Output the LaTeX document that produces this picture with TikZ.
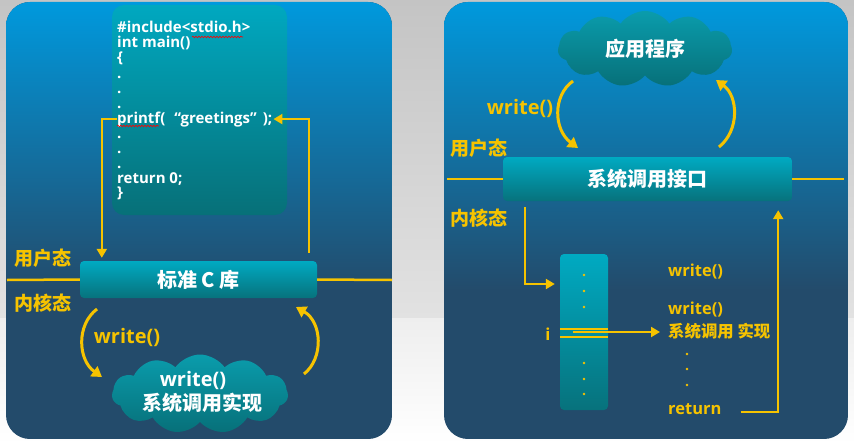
\documentclass[tikz,border=0pt]{standalone}
\usepackage{fontspec}
\setmainfont{Open Sans}
\newfontfamily\cjk{Noto Sans CJK SC}
\usetikzlibrary{arrows.meta,shapes.symbols,decorations.pathmorphing,calc}
\definecolor{ylw}{HTML}{F6C300}
\definecolor{bgA}{HTML}{C4C4C4}
\definecolor{bgB}{HTML}{E2E2E2}
\definecolor{bgC}{HTML}{EEEEEE}
\definecolor{panelT}{HTML}{0099DD}
\definecolor{panelB}{HTML}{234B6B}
\definecolor{tealT}{HTML}{00AAC2}
\definecolor{tealB}{HTML}{07727C}
\definecolor{codeT}{HTML}{00A8C0}
\definecolor{codeB}{HTML}{077078}
\definecolor{cloudT}{HTML}{0A9CAC}
\definecolor{cloudB}{HTML}{077079}
\begin{document}
\begin{tikzpicture}[x=1pt,y=-1pt,
  yl/.style={draw=ylw,line width=2.5pt},
  ya/.style={yl,-{Triangle[length=9pt,width=10pt]}},
  ca/.style={draw=ylw,line width=3pt,-{Triangle[length=10pt,width=12pt]}},
  tealbox/.style={rectangle,rounded corners=4pt,inner sep=0pt,top color=tealT,bottom color=tealB},
  cloudn/.style={cloud,cloud puffs=11,cloud puff arc=110,cloud ignores aspect,inner sep=0pt,top color=cloudT,bottom color=cloudB},
  code/.style={font=\bfseries\fontsize{15}{15}\selectfont,text=white,anchor=base west,inner sep=0pt},
  wcjk/.style={font=\cjk\bfseries\fontsize{20}{20}\selectfont,text=white,inner sep=0pt},
  wlat/.style={font=\bfseries\fontsize{20}{20}\selectfont,text=white,inner sep=0pt},
  ycjk/.style={font=\cjk\bfseries\fontsize{19}{19}\selectfont,text=ylw,inner sep=0pt},
  ycjks/.style={font=\cjk\bfseries\fontsize{16.4}{16.4}\selectfont,text=ylw,inner sep=0pt},
  ylat/.style={font=\bfseries\fontsize{20}{20}\selectfont,text=ylw,inner sep=0pt},
  ylats/.style={font=\bfseries\fontsize{16.5}{16.5}\selectfont,text=ylw,inner sep=0pt},
  wavy/.style={draw=red,line width=0.6pt,decorate,decoration={snake,amplitude=0.8pt,segment length=3pt}}
]
\useasboundingbox (0,0) rectangle (854,444);
% background
\shade[top color=bgA,bottom color=bgB] (0,0) rectangle (854,318);
\shade[top color=bgC,bottom color=white] (0,318) rectangle (854,444);
% panels
\begin{scope}
  \clip[rounded corners=24pt] (6,2) rectangle (392,439);
  \fill[panelB] (6,2) rectangle (392,439);
  \shade[top color=panelT,bottom color=panelB] (6,2) rectangle (392,290);
\end{scope}
\begin{scope}
  \clip[rounded corners=24pt] (444,2) rectangle (848,439);
  \fill[panelB] (444,2) rectangle (848,439);
  \shade[top color=panelT,bottom color=panelB] (444,2) rectangle (848,290);
\end{scope}

% ---------- left panel ----------
\node[tealbox,rounded corners=12pt,top color=codeT,bottom color=codeB,
      minimum width=175pt,minimum height=210pt] (codebox) at (199.5,110) {};
\node[code] (c1) at (117,33) {\#include<stdio.h>};
\node[code] (c2) at (117,48) {int main()};
\node[code] (c3) at (117,63) {\{};
\node[code] (c4) at (117,78) {.};
\node[code] (c5) at (117,93) {.};
\node[code] (c6) at (117,108) {.};
\node[code] (printf) at (117,123) {printf(\hspace{9pt}“greetings”\hspace{6pt});};
\node[code] (c8) at (117,138) {.};
\node[code] (c9) at (117,153) {.};
\node[code] (c10) at (117,168) {.};
\node[code] (c11) at (117,183) {return 0;};
\node[code] (c12) at (117,197) {\}};
\draw[wavy] (192,37) -- (243,37);
\draw[wavy] (117,126) -- (159,126);

\node[tealbox,minimum width=237pt,minimum height=37pt,font=\cjk\bfseries\fontsize{20}{20}\selectfont,text=white] (stdc) at (198.5,279.5) {标准 C 库};
\coordinate (lvlL0) at (7,280);
\coordinate (lvlL1) at (392,280);
\draw[yl] (lvlL0) -- (stdc.west);
\draw[yl] (stdc.east) -- (lvlL1);
\node[ycjk] (uL) at (43,258) {用户态};
\node[ycjk] (kL) at (43,303) {内核态};

\draw[ya] (printf.west) -| ([xshift=22pt,yshift=3pt]stdc.north west);
\draw[ya] ([xshift=-8pt,yshift=8pt]stdc.north east) |- ([xshift=1pt]printf.east);

\coordinate (la0) at (97,309);
\coordinate (la1) at (102,377);
\draw[ca] (la0) .. controls (76,325) and (78,360) .. (la1);
\coordinate (ra0) at (304,374);
\coordinate (ra1) at (296,307);
\draw[ca] (ra0) .. controls (324,358) and (322,322) .. (ra1);
\node[ylat] (wL) at (127,337) {write()};

\node[cloudn,minimum width=176pt,minimum height=79pt] (cloudL) at (200,394) {};
\node[wlat] (cLt1) at (193,380) {write()};
\node[wcjk] (cLt2) at (202,403) {系统调用实现};

% ---------- right panel ----------
\node[cloudn,minimum width=174pt,minimum height=76pt,font=\cjk\bfseries\fontsize{20}{20}\selectfont,text=white] (app) at (645,49) {应用程序};
\node[ylat] (wR) at (520,108) {write()};
\coordinate (lb0) at (573,81);
\coordinate (lb1) at (578,148);
\draw[ca] (lb0) .. controls (552,96) and (554,130) .. (lb1);
\coordinate (rb0) at (719,147);
\coordinate (rb1) at (716,80);
\draw[ca] (rb0) .. controls (740,130) and (738,96) .. (rb1);

\node[ycjk] (uR) at (479,148) {用户态};
\node[ycjk] (kR) at (479,218) {内核态};
\node[tealbox,minimum width=289pt,minimum height=44pt,font=\cjk\bfseries\fontsize{20}{20}\selectfont,text=white] (sci) at (647.5,179) {系统调用接口};
\coordinate (lvlR0) at (447,179);
\coordinate (lvlR1) at (844,179);
\draw[yl] (lvlR0) -- (sci.west);
\draw[yl] (sci.east) -- (lvlR1);

\node[tealbox,minimum width=48pt,minimum height=156pt] (col) at (584,332) {};
\foreach \yy in {275,291,307,363,379,394} \fill[ylw] (584,\yy) circle (1.3pt);
\draw[draw=ylw,line width=2pt] ([yshift=3pt]col.west) -- ([yshift=3pt]col.east);
\draw[draw=ylw,line width=2pt] ([yshift=-5pt]col.west) -- ([yshift=-5pt]col.east);
\node[ylats] (iR) at (548,334) {i};

\node[ylats,anchor=west] (rw1) at (668,272) {write()};
\node[ylats,anchor=west] (rw2) at (668,310) {write()};
\node[ycjks,anchor=west] (impl) at (668,331) {系统调用 实现};
\foreach \yy in {354,369,385} \fill[ylw] (687,\yy) circle (1.3pt);
\node[ylats,anchor=west] (rret) at (668,409) {return};

\draw[ya] ([xshift=22pt,yshift=-6pt]sci.south west) |- ([xshift=-5pt,yshift=48pt]col.west);
\draw[ya,line width=2pt] ([xshift=13pt]col.west) -- ([xshift=-8pt]col.west -| impl.west);
\draw[ya] ([xshift=19pt,yshift=-3pt]rret.east) -| ([xshift=-14pt,yshift=-9pt]sci.south east);
\end{tikzpicture}
\end{document}
